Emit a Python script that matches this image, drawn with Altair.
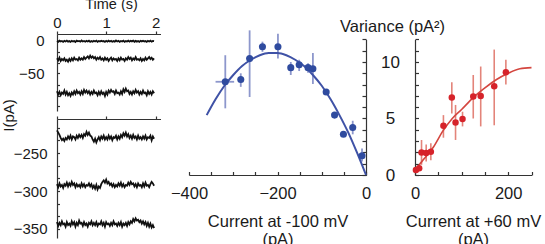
import altair as alt
import pandas as pd

# ---------------- data ----------------
# current traces (pA): resting level of each trace + deviations
trace_levels = [-1, -28, -79, -229, -292, -343]
trace_dev_1 = [0.5, -0.8, 0.9, -0.5, 0.3, -1.0, 0.6, -0.4, 1.0, -0.6,
               0.2, -0.9, 0.7, -0.3, 0.4, -1.1, 0.8, -0.2, 0.5, -0.7,
               1.1, -0.5, 0.3, -0.8, 0.6, -0.4, 0.9, -1.0, 0.2, -0.6,
               0.7, -0.3, 1.0, -0.9, 0.4, -0.5, 0.8, -0.2, 0.3, -1.0,
               0.6, -0.7, 0.9, -0.4, 0.5, -0.8, 0.2, -0.6, 1.1, -0.3,
               0.7, -0.9, 0.4, -0.5, 0.8, -1.0, 0.3, -0.4, 0.9, -0.7,
               0.6, -0.2, 1.0, -0.8, 0.5, -0.6, 0.3, -0.9, 0.7, -0.2,
               0.8, -0.5, 0.4, -1.0, 0.6, -0.3, 0.9, -0.7, 0.5, 0.2]
trace_dev_2 = [1, -2, 2, -3, 0, -2, 1, -3, -1, -4,
               0, -3, 1, -2, 2, -1, 0, -2, 2, -1,
               1, -1, 3, 0, 2, 4, 1, 5, 2, 4,
               1, 3, -1, 2, 0, 3, -1, 1, -2, 2,
               -1, 1, -3, 0, 2, -2, 1, -1, 0, -3,
               1, -2, 2, -1, 0, -3, 1, -1, 3, 0,
               2, -2, 1, -1, 3, -1, 0, -2, 1, -3,
               0, -2, 2, -1, 1, 3, 0, 2, -1, 1]
trace_dev_3 = [2, -3, 1, -4, 0, -2, 3, -3, 1, -4,
               -1, -5, 0, -3, 2, -2, 3, -1, 1, -3,
               2, -2, 4, 0, 3, -1, 2, -3, 1, -2,
               3, -1, 0, -4, 1, -3, 2, -2, 0, -5,
               1, -3, 3, 0, 4, 1, 2, -2, 3, -1,
               0, -3, 2, -2, 5, 1, 6, 2, 3, -2,
               1, -3, 2, -1, 4, 0, 2, -3, 1, -2,
               3, -1, 0, -4, 2, -2, 1, -3, 2, -1]
trace_dev_4 = [9, 6, 3, -1, -4, -2, -5, -1, -3, 1,
               -2, 2, -3, 1, 0, -3, 2, -1, 3, 0,
               3, -1, 4, 2, 7, 3, 6, 2, 1, -3,
               -6, -2, -7, -3, 0, -4, 1, -2, 2, -3,
               0, -3, 2, -2, 1, -4, 0, -1, 2, -3,
               1, -2, 3, 0, 5, 2, 6, 1, 4, -1,
               2, -2, 3, -1, 1, -3, 2, -2, 0, -3,
               1, -2, 2, -3, 0, -1, 2, -4, 1, -2]
trace_dev_5 = [1, -3, 2, -2, 0, -4, 1, -1, 3, -2,
               2, -1, 4, 0, 2, -3, 1, -2, 0, -3,
               2, -2, 1, -3, 0, -1, 2, -2, 1, -4,
               -1, -5, 0, -6, -2, -4, 1, 4, 6, 3,
               7, 2, 4, 0, 2, -2, 1, -3, 0, -2,
               2, -1, 3, -2, 1, -3, 0, -1, 3, 0,
               4, 1, 2, -2, 1, -3, 2, -1, 0, -3,
               2, -2, 3, -1, 0, -3, 1, 4, 2, -1]
trace_dev_6 = [2, -3, 1, -2, 3, -1, 0, -4, 2, -2,
               0, -3, 3, -1, 2, -4, 1, -2, 4, 0,
               1, -3, 2, -2, 0, -4, 1, -1, 3, -2,
               1, -2, 2, -3, 0, -1, 3, -2, 1, -4,
               2, -1, 0, -3, 1, -2, 3, -1, 0, -3,
               1, -2, 2, -4, 0, -2, 1, -3, 2, -1,
               3, 1, 6, 3, 7, 4, 5, 2, 4, 0,
               3, -1, 2, -3, 1, -4, 0, -5, -2, -6]
trace_duration_s = 1.97
time_labels_outer = [0, 2]
time_labels_mid = [1]
time_ticks = [0, 1, 2]

# variance vs current at -100 mV (blue)
blue_I = [-318, -283, -263, -234, -199, -170, -151, -131, -120, -90, -71, -51, -30, -9]
blue_var = [8.25, 8.45, 10.3, 11.35, 11.35, 9.5, 9.75, 9.5, 9.4, 7.35, 5.3, 3.6, 4.2, 1.7]
blue_lo = [5.9, 7.8, 6.9, 10.9, 10.3, 8.85, 9.2, 9.05, 8.05, 7.35, 5.3, 3.6, 3.6, 1.2]
blue_hi = [10.6, 9.0, 12.8, 11.8, 12.5, 10.0, 10.2, 9.9, 10.8, 7.35, 5.3, 3.6, 4.8, 2.35]
blue_xerr_lo = [-340]
blue_xerr_hi = [-298]
blue_xerr_I = [-318]
blue_xerr_var = [8.25]
blue_fit_I = [-360, -340, -320, -300, -280, -260, -240, -220, -200, -180,
              -160, -140, -120, -100, -80, -60, -40, -20, 0]
blue_fit_var = [5.3, 6.7, 7.9, 8.85, 9.65, 10.2, 10.6, 10.8, 10.8, 10.6,
                10.2, 9.65, 8.85, 7.9, 6.7, 5.3, 3.75, 1.95, 0.0]

# variance vs current at +60 mV (red)
red_I = [2, 9, 14, 24, 34, 61, 79, 87, 102, 125, 141, 170, 195]
red_var = [0.45, 0.6, 2.0, 1.95, 2.05, 4.35, 6.85, 4.65, 4.95, 6.95, 7.0, 7.85, 9.1]
red_lo = [0.45, 0.6, 0.9, 1.2, 1.3, 3.3, 5.45, 3.1, 4.3, 5.0, 4.3, 4.4, 8.0]
red_hi = [0.45, 0.6, 3.1, 2.7, 2.8, 5.3, 8.2, 6.2, 5.6, 8.85, 9.6, 11.1, 10.2]
red_fit_I = [0, 10, 20, 40, 60, 80, 100, 125, 150, 175, 200, 225, 250]
red_fit_var = [0.45, 0.95, 1.45, 2.5, 3.9, 5.0, 5.8, 6.85, 7.7, 8.45, 9.0, 9.4, 9.5]

# ---------------- tables ----------------
devs = [trace_dev_1, trace_dev_2, trace_dev_3, trace_dev_4, trace_dev_5, trace_dev_6]
rows = []
for k, (lvl, dev) in enumerate(zip(trace_levels, devs)):
    n = len(dev)
    for i, d in enumerate(dev):
        rows.append({"trace": k, "t": i * trace_duration_s / (n - 1), "I": lvl + d})
tr = pd.DataFrame(rows)
tr_a = tr[tr.trace == 0]
tr_b = tr[tr.trace.isin([1, 2])]
tr_c = tr[tr.trace == 3]
tr_d = tr[tr.trace.isin([4, 5])]

blue = pd.DataFrame({"I": blue_I, "var": blue_var, "lo": blue_lo, "hi": blue_hi})
blue_x = pd.DataFrame({"I": blue_xerr_I, "var": blue_xerr_var, "xlo": blue_xerr_lo, "xhi": blue_xerr_hi})
blue_fit = pd.DataFrame({"I": blue_fit_I, "var": blue_fit_var})
red = pd.DataFrame({"I": red_I, "var": red_var, "lo": red_lo, "hi": red_hi})
red_fit = pd.DataFrame({"I": red_fit_I, "var": red_fit_var})

# ---------------- styling helpers ----------------
FONT = "Liberation Sans"
AXC = "#333333"
TXT = "#1a1a1a"
W, H = 545, 244


def sc(domain, rng):
    return alt.Scale(domain=domain, range=rng, zero=False, nice=False)


def ax(**kw):
    base = dict(grid=False, labelFont=FONT, titleFont=FONT, domainColor=AXC,
                tickColor=AXC, labelColor=TXT, titleColor=TXT, labelFlush=False,
                labelOverlap=False, titleFontWeight="normal", domainWidth=1.2,
                tickWidth=1.2, title=None)
    base.update(kw)
    return alt.Axis(**base)


# scales (pixel ranges place each panel)
X_T = ([0, 2.1], [57, 160.5])
Y_TOP = ([-107, 10], [111, 34])
Y_BOT = ([-362, -205], [238, 119])
X_MID = ([-400, 0], [189, 366])
Y_VAR = ([0, 12], [175, 39.4])
X_RGT = ([0, 250], [415, 531.5])

top_ticks = [0, -17, -34, -50, -67, -84, -100]
bot_ticks = [-217, -233, -250, -267, -283, -300, -317, -333, -350]
var_ticks = list(range(0, 13))

# ---------------- left panel: traces ----------------
line_kw = dict(color="#111111", strokeWidth=1.8)

L1 = alt.Chart(tr_a).mark_line(**line_kw).encode(
    x=alt.X("t:Q", scale=sc(*X_T), axis=ax(
        orient="top", offset=-34, values=time_labels_outer, format="d",
        tickSize=3, labelPadding=1, labelFontSize=15, title="Time (s)",
        titleX=111, titleY=-26, titleAlign="center",
        titleBaseline="alphabetic", titleFontSize=14.5)),
    y=alt.Y("I:Q", scale=sc(*Y_TOP), axis=ax(
        orient="left", offset=-57, values=[0, -50], ticks=False, tickSize=0,
        labelPadding=13, labelFontSize=15, title="I(pA)", titleAngle=270,
        titleX=-49, titleY=115, titleAlign="center", titleBaseline="middle",
        titleFontSize=15)),
    detail="trace:N")

L2 = alt.Chart(tr_b).mark_line(**line_kw).encode(
    x=alt.X("t:Q", scale=sc(*X_T), axis=ax(
        orient="top", offset=-34, values=time_labels_mid, tickCount=1,
        tickSize=3, labelPadding=1, labelFontSize=15, domain=False)),
    y=alt.Y("I:Q", scale=sc(*Y_TOP), axis=ax(
        orient="right", offset=57 - W, values=top_ticks, tickSize=2.5,
        labels=False, domain=False)),
    detail="trace:N")

L3 = alt.Chart(tr_c).mark_line(**line_kw).encode(
    x=alt.X("t:Q", scale=sc(*X_T), axis=ax(
        orient="top", offset=-119, values=time_ticks, tickSize=3,
        labels=False)),
    y=alt.Y("I:Q", scale=sc(*Y_BOT), axis=ax(
        orient="left", offset=-57, values=[-250, -300, -350], ticks=False,
        tickSize=0, labelPadding=10, labelFontSize=15)),
    detail="trace:N")

L4 = alt.Chart(tr_d).mark_line(**line_kw).encode(
    x=alt.X("t:Q", scale=sc(*X_T), axis=None),
    y=alt.Y("I:Q", scale=sc(*Y_BOT), axis=ax(
        orient="right", offset=57 - W, values=bot_ticks, tickSize=2.5,
        labels=False, domain=False)),
    detail="trace:N")

# ---------------- middle panel: blue ----------------
BLUE = "#2f4b9f"
BLUE_LINE = "#3f52a6"
BLUE_ERR = "#8d97cc"

M1 = alt.Chart(blue).mark_rule(color=BLUE_ERR, strokeWidth=1.8).encode(
    x=alt.X("I:Q", scale=sc(*X_MID), axis=ax(
        orient="bottom", offset=175 - H, values=[-400, -200, 0], ticks=False,
        tickSize=0, labelPadding=10, labelFontSize=16.5,
        title=["Current at -100 mV", "(pA)"], titleX=277.5, titleY=38,
        titleAlign="center", titleBaseline="top", titleFontSize=16.5,
        titleLineHeight=18)),
    y=alt.Y("lo:Q", scale=sc(*Y_VAR), axis=ax(
        orient="left", offset=-366, values=var_ticks, tickSize=4,
        labels=False)),
    y2="hi:Q")

M2 = alt.Chart(blue_x).mark_rule(color=BLUE_ERR, strokeWidth=1.8).encode(
    x=alt.X("xlo:Q", scale=sc(*X_MID), axis=None),
    x2="xhi:Q",
    y=alt.Y("var:Q", scale=sc(*Y_VAR), axis=None))

M3 = alt.Chart(blue_fit).mark_line(color=BLUE_LINE, strokeWidth=2, interpolate="monotone").encode(
    x=alt.X("I:Q", scale=sc(*X_MID), axis=ax(
        orient="top", offset=-175, values=list(range(-400, 1, 50)), tickSize=3.5,
        labels=False, domain=False)),
    y=alt.Y("var:Q", scale=sc(*Y_VAR), axis=None))

M4 = alt.Chart(blue).mark_circle(color=BLUE, size=50, opacity=1).encode(
    x=alt.X("I:Q", scale=sc(*X_MID), axis=None),
    y=alt.Y("var:Q", scale=sc(*Y_VAR), axis=None))

# ---------------- right panel: red ----------------
RED = "#d6232a"
RED_LINE = "#d4463f"
RED_ERR = "#e3847a"

R1 = alt.Chart(red).mark_rule(color=RED_ERR, strokeWidth=1.6).encode(
    x=alt.X("I:Q", scale=sc(*X_RGT), axis=ax(
        orient="bottom", offset=175 - H, values=[0, 200], ticks=False,
        tickSize=0, labelPadding=10, labelFontSize=16.5,
        title=["Current at +60 mV", "(pA)"], titleX=473, titleY=38,
        titleAlign="center", titleBaseline="top", titleFontSize=16.5,
        titleLineHeight=18)),
    y=alt.Y("lo:Q", scale=sc(*Y_VAR), axis=ax(
        orient="left", offset=-415, values=[0, 5, 10], ticks=False, tickSize=0,
        labelPadding=25, labelAlign="center", labelFontSize=17,
        title="Variance (pA²)", titleAngle=0, titleX=-23, titleY=31,
        titleAlign="center", titleBaseline="alphabetic", titleFontSize=16.5)),
    y2="hi:Q")

R2 = alt.Chart(red_fit).mark_line(color=RED_LINE, strokeWidth=1.6, interpolate="monotone").encode(
    x=alt.X("I:Q", scale=sc(*X_RGT), axis=ax(
        orient="top", offset=-175, values=[0, 50, 100, 150, 200, 250],
        tickSize=3.5, labels=False, domain=False)),
    y=alt.Y("var:Q", scale=sc(*Y_VAR), axis=ax(
        orient="right", offset=415 - W, values=var_ticks, tickSize=3.5,
        labels=False, domain=False)))

R3 = alt.Chart(red).mark_circle(color=RED, size=42, opacity=1).encode(
    x=alt.X("I:Q", scale=sc(*X_RGT), axis=None),
    y=alt.Y("var:Q", scale=sc(*Y_VAR), axis=None))

chart = alt.layer(L1, L2, L3, L4, M1, M2, M3, M4, R1, R2, R3).resolve_scale(
    x="independent", y="independent"
).resolve_axis(
    x="independent", y="independent"
).properties(
    width=W, height=H, autosize=alt.AutoSizeParams(type="none"), padding=0,
    background="white"
).configure_view(stroke=None).configure_axis(grid=False)

chart.save("out.html", embed_options={"renderer": "svg", "actions": False})
